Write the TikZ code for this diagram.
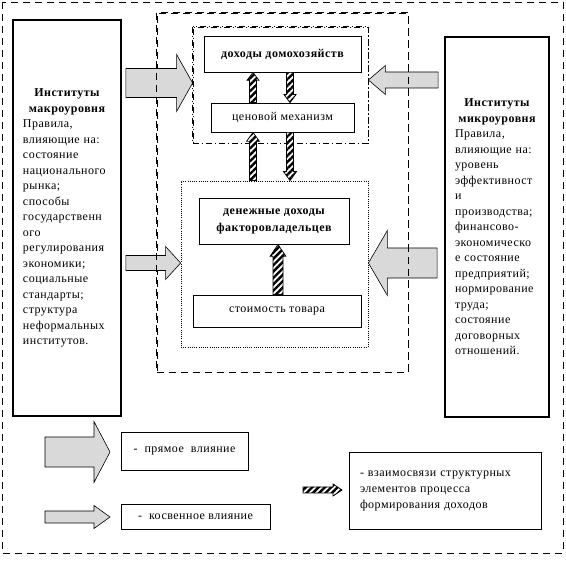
\documentclass[tikz,border=0pt]{standalone}
\usepackage{fontspec}
\setmainfont{Liberation Serif}[LetterSpace=4]
\usetikzlibrary{calc,patterns.meta}

% block arrow: style, from, to, shaft half width, head half width, head length
\newcommand{\blockarrow}[6]{%
  \coordinate (hb) at ($(#3)!#6!(#2)$);
  \path[#1] ($(#2)!#4!90:(#3)$) -- ($(hb)!#4!90:(#3)$) -- ($(hb)!#5!90:(#3)$) -- (#3)
    -- ($(hb)!#5!-90:(#3)$) -- ($(hb)!#4!-90:(#3)$) -- ($(#2)!#4!-90:(#3)$) -- cycle;}

\begin{document}
\begin{tikzpicture}[x=1pt,y=-1pt,
    inst/.style={draw, line width=1.8pt, font=\fontsize{12pt}{15.5pt}\selectfont, align=left, inner sep=0pt},
    box/.style={draw, line width=0.8pt, font=\fontsize{12pt}{16pt}\selectfont, align=center, inner sep=2pt},
    boldbox/.style={box, font=\fontsize{12pt}{17pt}\selectfont\bfseries},
    framedash/.style={draw, line width=0.8pt, dash pattern=on 7pt off 5pt, inner sep=0pt},
    framedashdot/.style={draw, line width=0.8pt, dash pattern=on 6pt off 3pt on 1pt off 3pt, inner sep=0pt},
    framedot/.style={draw, line width=0.8pt, dash pattern=on 1pt off 1.2pt, inner sep=0pt},
    influence/.style={draw=black, fill=gray!30, line width=0.6pt},
    hatch/.style={draw=black, line width=0.7pt, preaction={fill=white},
      pattern={Lines[angle=45,distance=4.5pt,line width=2.4pt]}}]
    \useasboundingbox (0,0) rectangle (566,564);
    \draw[line width=0.8pt, dash pattern=on 7pt off 5pt] (2,2) rectangle (563,553); % outer frame

    % Institution boxes
    \node[inst, minimum width=108, minimum height=396, text width=88pt] (macro) at (67,218)
      {\makebox[88pt]{\bfseries Институты}\\ \makebox[88pt]{\bfseries макроуровня}\\
       Правила,\\ влияющие на:\\ состояние\\ национального\\ рынка;\\ способы\\ государственн\\ ого\\
       регулирования\\ экономики;\\ социальные\\ стандарты;\\ структура\\ неформальных\\ институтов.};
    \node[inst, minimum width=104, minimum height=380, text width=84pt] (micro) at (497,227)
      {\makebox[84pt]{\bfseries Институты}\\ \makebox[84pt]{\bfseries микроуровня}\\
       Правила,\\ влияющие на:\\ уровень\\ эффективност\\ и\\ производства;\\ финансово-\\ экономическо\\
       е состояние\\ предприятий;\\ нормирование\\ труда;\\ состояние\\ договорных\\ отношений.};

    % Frames
    \node[framedash, minimum width=251, minimum height=359] (mid) at (282.5,192.5) {};
    \node[framedashdot, minimum width=175, minimum height=116] (upper) at (280.5,85) {};
    \node[framedot, minimum width=187, minimum height=166] (lower) at (274.5,264) {};

    % Inner boxes
    \node[boldbox, minimum width=157, minimum height=36] (dom) at (282.5,54) {доходы домохозяйств};
    \node[box, minimum width=143, minimum height=29] (cen) at (282.5,117.5) {ценовой механизм};
    \node[boldbox, minimum width=150, minimum height=46] (den) at (274,221) {денежные доходы\\ факторовладельцев};
    \node[box, minimum width=168, minimum height=32] (cost) at (277,311) {стоимость товара};

    % Influence arrows
    \coordinate (a1s) at ($(macro.east |- 0,83)+(4,0)$);
    \coordinate (a1e) at (upper.west |- 0,83);
    \coordinate (a2s) at ($(micro.west |- 0,80)+(-6,0)$);
    \coordinate (a2e) at (upper.east |- 0,80);
    \coordinate (a3s) at ($(macro.east |- 0,263)+(4,0)$);
    \coordinate (a3e) at (lower.west |- 0,263);
    \coordinate (a4s) at ($(micro.west |- 0,263)+(-7,0)$);
    \coordinate (a4e) at (lower.east |- 0,263);
    \blockarrow{influence}{a1s}{a1e}{14.5pt}{28.5pt}{16pt} % direct
    \blockarrow{influence}{a2s}{a2e}{8pt}{14.5pt}{17pt}   % indirect
    \blockarrow{influence}{a3s}{a3e}{7.5pt}{16.5pt}{15pt} % indirect
    \blockarrow{influence}{a4s}{a4e}{15pt}{32.5pt}{19pt}  % direct

    % redraw frames over the arrows
    \draw[line width=0.8pt, dash pattern=on 7pt off 5pt] (mid.north west) rectangle (mid.south east);
    \draw[line width=0.8pt, dash pattern=on 6pt off 3pt on 1pt off 3pt] (upper.north west) rectangle (upper.south east);

    % Links between elements
    \blockarrow{hatch}{cen.north -| 253,0}{dom.south -| 253,0}{3.5pt}{6pt}{8pt}
    \blockarrow{hatch}{dom.south -| 290,0}{cen.north -| 290,0}{3.5pt}{6pt}{8pt}
    \blockarrow{hatch}{lower.north -| 253,0}{cen.south -| 253,0}{3.5pt}{6.5pt}{9pt}
    \blockarrow{hatch}{cen.south -| 290,0}{lower.north -| 290,0}{3.5pt}{6.5pt}{9pt}
    \blockarrow{hatch}{cost.north -| 278,0}{den.south -| 278,0}{5pt}{8pt}{12pt}

    % Legend
    \coordinate (l1s) at (45,452);
    \coordinate (l1e) at (110,452);
    \coordinate (l2s) at (45,517);
    \coordinate (l2e) at (110,517);
    \coordinate (l3s) at (303,490);
    \coordinate (l3e) at (342,490);
    \blockarrow{influence}{l1s}{l1e}{15pt}{30.5pt}{16pt}
    \blockarrow{influence}{l2s}{l2e}{6pt}{11.5pt}{16pt}
    \blockarrow{hatch}{l3s}{l3e}{3pt}{6pt}{9pt}
    \node[box, minimum width=127, minimum height=38] (ldirect) at (184.5,451) {-\ \ прямое\ \ влияние};
    \node[box, minimum width=149, minimum height=25] (lindirect) at (195.5,516.5) {-\ \ косвенное влияние};
    \node[box, align=left, minimum width=192, minimum height=77, text width=170pt] (llinks) at (445,490.5)
      {- взаимосвязи структурных\\ элементов процесса\\ формирования доходов};
\end{tikzpicture}
\end{document}
